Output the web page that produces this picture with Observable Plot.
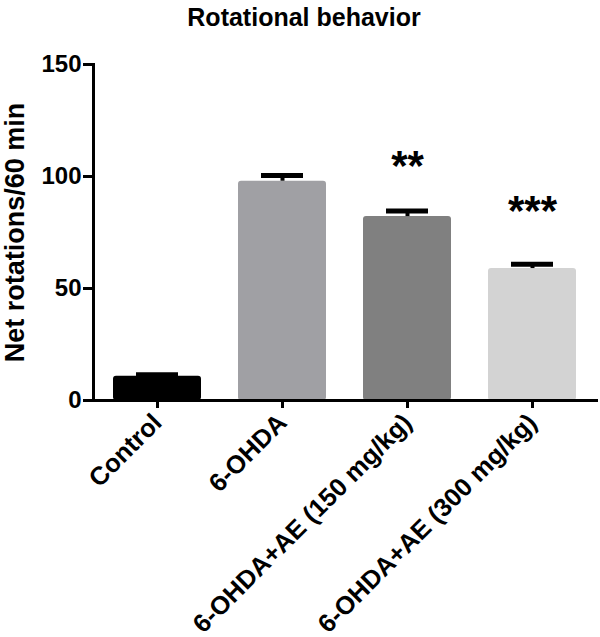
<!DOCTYPE html>
<html>
<head>
<meta charset="utf-8">
<script src="https://cdn.jsdelivr.net/npm/d3@7"></script>
<script src="https://cdn.jsdelivr.net/npm/@observablehq/plot@0.6"></script>
<style>
  html, body { margin: 0; padding: 0; background: #fff; }
  #title { width: 600px; height: 40px; line-height: 34px; font-size: 25px; font-weight: bold;
           font-family: "Liberation Sans", Arial, sans-serif; text-align: center; padding-left: 8px; box-sizing: border-box; color: #000; }
  svg { display: block; }
</style>
</head>
<body>
<div id="title">Rotational behavior</div>
<div id="chart"></div>
<script>
const categories = ["Control", "6-OHDA", "6-OHDA+AE (150 mg/kg)", "6-OHDA+AE (300 mg/kg)"];
const means = [10.8, 97.9, 82.1, 58.9];
const sems = [0.7, 2.6, 2.5, 1.9];
const barColors = ["#000000", "#a0a0a4", "#808080", "#d3d3d3"];
const sigLabels = ["", "", "**", "***"];
const sigY = [null, null, 106.3, 86.2];
const yTicks = [0, 50, 100, 150];
const yLabel = "Net rotations/60 min";

const data = categories.map((c, i) => ({
  group: c, mean: means[i], top: means[i] + sems[i], color: barColors[i],
  sig: sigLabels[i], sigY: sigY[i]
}));

const plot = Plot.plot({
  width: 600,
  height: 597,
  marginTop: 24,
  marginBottom: 237,
  marginLeft: 93,
  marginRight: 4,
  style: { fontFamily: '"Liberation Sans", Arial, sans-serif', fontWeight: "bold", color: "#000", background: "#fff", overflow: "visible" },
  x: { domain: categories, paddingInner: 0.3, paddingOuter: 0.15, label: null },
  y: { domain: [0, 150], label: null },
  marks: [
    Plot.barY(data, { x: "group", y1: 0, y2: "mean", fill: "color", rx: 3 }),
    Plot.ruleX(data, { x: "group", y1: "mean", y2: "top", stroke: "#000", strokeWidth: 4 }),
    Plot.tickY(data, { x: "group", y: "top", stroke: "#000", strokeWidth: 5, insetLeft: 23, insetRight: 23 }),
    Plot.text(data.filter(d => d.sig), { x: "group", y: "sigY", text: "sig", fontSize: 42, fontWeight: "bold", fill: "#000", dy: 4 }),
    Plot.frame({ anchor: "left", strokeWidth: 3, stroke: "#000", strokeLinecap: "square" }),
    Plot.frame({ anchor: "bottom", strokeWidth: 3, stroke: "#000", strokeLinecap: "square" }),
    Plot.axisY({ ticks: yTicks, tickSize: 10, tickPadding: 2, fontSize: 24, fontWeight: "bold", strokeWidth: 3, label: null }),
    Plot.axisX({ tickSize: 8, tickPadding: 10, tickRotate: -45, fontSize: 25.5, fontWeight: "bold", strokeWidth: 3, label: null }),
    Plot.text([yLabel], { frameAnchor: "left", textAnchor: "middle", dx: -78, rotate: -90, fontSize: 27, fontWeight: "bold", fill: "#000" })
  ]
});
document.getElementById("chart").appendChild(plot);
</script>
</body>
</html>
